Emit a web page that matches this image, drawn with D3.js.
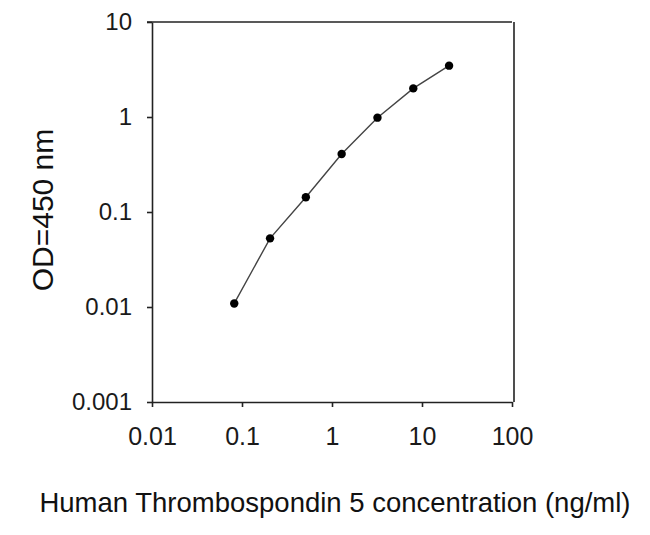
<!DOCTYPE html>
<html>
<head>
<meta charset="utf-8">
<script src="https://cdn.jsdelivr.net/npm/d3@7"></script>
<style>
  body { margin: 0; background: #fff; }
  svg { display: block; font-family: "Liberation Sans", Arial, sans-serif; }
  .axis path, .axis line { stroke: #222; stroke-width: 1.6; }
  .axis text { fill: #1a1a1a; }
</style>
</head>
<body>
<svg id="chart" width="650" height="535"></svg>
<script>
// concentration (ng/ml), 2.5-fold dilution series
var concentration = [0.082, 0.205, 0.512, 1.28, 3.2, 8, 20];
// OD at 450 nm
var od = [0.0109, 0.0528, 0.143, 0.408, 0.984, 2.0, 3.47];

var xTicks = [0.01, 0.1, 1, 10, 100];
var yTicks = [0.001, 0.01, 0.1, 1, 10];
var xTitle = "Human Thrombospondin 5 concentration (ng/ml)";
var yTitle = "OD=450 nm";

var svg = d3.select("#chart");

var x = d3.scaleLog().domain([0.01, 100]).range([152, 512]);
var y = d3.scaleLog().domain([0.001, 10]).range([402, 22]);

function fmt(d) {
    return d.toString();
}

// frame, top and right
svg.append("line")
    .attr("x1", x.range()[0] - 5).attr("x2", x.range()[1])
    .attr("y1", y(10)).attr("y2", y(10))
    .attr("stroke", "#222").attr("stroke-width", 1.6);
svg.append("line")
    .attr("x1", x.range()[1] + 2).attr("x2", x.range()[1] + 2)
    .attr("y1", y(10)).attr("y2", y(0.001))
    .attr("stroke", "#222").attr("stroke-width", 1.6);

var xAxis = svg.append("g")
    .attr("class", "axis")
    .attr("transform", "translate(0," + y(0.001) + ")")
    .call(d3.axisBottom(x).tickValues(xTicks).tickFormat(fmt)
        .tickSize(5).tickSizeOuter(0).tickPadding(20));
xAxis.selectAll("text")
    .style("font-size", "25px");

var yAxis = svg.append("g")
    .attr("class", "axis")
    .attr("transform", "translate(" + x(0.01) + ",0)")
    .call(d3.axisLeft(y).tickValues(yTicks).tickFormat(fmt)
        .tickSize(5).tickSizeOuter(0).tickPadding(15));
yAxis.selectAll("text")
    .style("font-size", "24px");

var line = d3.line()
    .x(function(d, i) { return x(concentration[i]); })
    .y(function(d) { return y(d); });

svg.append("path")
    .datum(od)
    .attr("d", line)
    .attr("fill", "none")
    .attr("stroke", "#444")
    .attr("stroke-width", 1.4);

svg.selectAll("circle.pt")
    .data(od)
    .enter().append("circle")
    .attr("class", "pt")
    .attr("cx", function(d, i) { return x(concentration[i]); })
    .attr("cy", function(d) { return y(d); })
    .attr("r", 4.2)
    .attr("fill", "#000");

svg.append("text")
    .attr("x", 335).attr("y", 512)
    .attr("text-anchor", "middle")
    .style("font-size", "27.5px")
    .attr("fill", "#111")
    .text(xTitle);

svg.append("text")
    .attr("transform", "translate(53,210) rotate(-90)")
    .attr("text-anchor", "middle")
    .style("font-size", "30px")
    .attr("fill", "#111")
    .text(yTitle);
</script>
</body>
</html>
